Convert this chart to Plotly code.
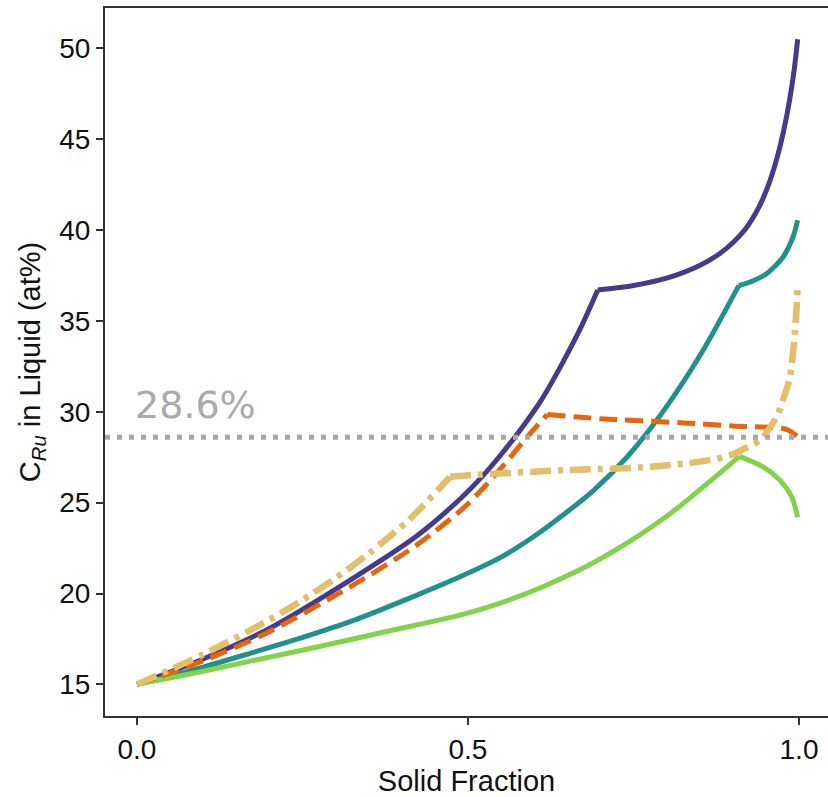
import plotly.graph_objects as go

# Liquid Ru concentration (at%) against solid fraction for five solidification paths.
# Each path has a kink where a second solid phase starts to form (index into the lists).
f_purple = [0, 0.1, 0.2, 0.322, 0.422, 0.488, 0.523, 0.55, 0.579, 0.61, 0.64, 0.67, 0.696,
            0.75, 0.8, 0.85, 0.88, 0.9, 0.92, 0.94, 0.955, 0.967, 0.977, 0.986, 0.993, 0.998]
c_purple = [15, 16.4, 18.08, 20.74, 23.15, 25.2, 26.5, 27.65, 29.0, 30.6, 32.5, 34.6, 36.7,
            36.95, 37.35, 38.05, 38.7, 39.3, 40.1, 41.3, 42.6, 44.0, 45.5, 47.2, 48.9, 50.5]
k_purple = 12

f_teal = [0, 0.1, 0.171, 0.261, 0.322, 0.422, 0.488, 0.55, 0.6, 0.65, 0.689, 0.74,
          0.775, 0.806, 0.857, 0.909, 0.93, 0.951, 0.976, 0.991, 0.998]
c_teal = [15, 15.95, 16.71, 17.71, 18.45, 19.9, 20.92, 22.0, 23.15, 24.5, 25.65, 27.5,
          29.05, 30.6, 33.5, 36.94, 37.2, 37.6, 38.52, 39.62, 40.54]
k_teal = 15

f_green = [0, 0.1, 0.171, 0.246, 0.387, 0.488, 0.55, 0.614, 0.68, 0.74, 0.78, 0.815,
           0.866, 0.91, 0.946, 0.971, 0.989, 0.998]
c_green = [15, 15.72, 16.28, 16.85, 17.99, 18.81, 19.49, 20.39, 21.51, 22.77, 23.73, 24.66,
           26.19, 27.55, 26.97, 26.24, 25.32, 24.2]
k_green = 13

f_orange = [0, 0.1, 0.2, 0.322, 0.422, 0.493, 0.523, 0.555, 0.589, 0.62,
            0.7, 0.825, 0.9, 0.981, 0.997]
c_orange = [15, 16.3, 17.9, 20.37, 22.65, 24.7, 25.8, 27.1, 28.6, 29.85,
            29.62, 29.39, 29.22, 29.03, 28.65]
k_orange = 9

f_yellow = [0, 0.1, 0.2, 0.25, 0.3, 0.35, 0.412, 0.473, 0.503, 0.649, 0.775, 0.866,
            0.896, 0.918, 0.941, 0.966, 0.979, 0.986, 0.994, 0.998]
c_yellow = [15, 16.65, 18.55, 19.65, 20.85, 22.2, 24.1, 26.42, 26.51, 26.79, 26.97, 27.34,
            27.61, 27.98, 28.44, 29.72, 31.0, 31.85, 34.44, 36.85]
k_yellow = 7

threshold = 28.6
threshold_label = "28.6%"

x_ticks = [0.0, 0.5, 1.0]
x_tick_text = ["0.0", "0.5", "1.0"]
y_ticks = [15, 20, 25, 30, 35, 40, 45, 50]

series = [
    (f_purple, c_purple, k_purple, "#463a8a", 5, "solid"),
    (f_teal, c_teal, k_teal, "#21918c", 5, "solid"),
    (f_green, c_green, k_green, "#82d34c", 5, "solid"),
    (f_orange, c_orange, k_orange, "#e8650c", 5, "18px,8px"),
    (f_yellow, c_yellow, k_yellow, "#e3bf6b", 6.5, "21px,7px,5px,7px"),
]

fig = go.Figure()

for fs, cs, k, color, width, dash in series:
    # draw the path as two smooth pieces so the kink stays sharp
    for xs, ys in ((fs[:k + 1], cs[:k + 1]), (fs[k:], cs[k:])):
        fig.add_trace(go.Scatter(
            x=xs, y=ys, mode="lines",
            line=dict(color=color, width=width, dash=dash, shape="spline", smoothing=0.8),
            showlegend=False, hoverinfo="skip",
        ))

x_range = [-0.0483, 1.0438]

fig.add_trace(go.Scatter(
    x=x_range, y=[threshold, threshold], mode="lines",
    line=dict(color="#aaa7a7", width=5, dash="5px,7px"),
    showlegend=False, hoverinfo="skip",
))

fig.add_annotation(
    x=-0.006, y=29.05, xref="x", yref="y",
    text=threshold_label, showarrow=False,
    xanchor="left", yanchor="bottom",
    font=dict(family="DejaVu Sans", size=38, color="#aaaaaa"),
)

axis_font = dict(family="Liberation Sans, Arial, sans-serif", size=28, color="#111111")

fig.update_xaxes(
    range=x_range, tickvals=x_ticks, ticktext=x_tick_text,
    showline=True, linecolor="#333333", linewidth=2, mirror=True,
    ticks="outside", ticklen=7, tickwidth=2, tickcolor="#333333",
    showgrid=False, zeroline=False, tickfont=axis_font,
    title=dict(text="Solid Fraction", font=dict(family="Liberation Sans, Arial, sans-serif",
                                                 size=29, color="#111111"), standoff=6),
)
fig.update_yaxes(
    range=[13.26, 52.22], tickvals=y_ticks,
    showline=True, linecolor="#333333", linewidth=2,
    ticks="outside", ticklen=7, tickwidth=2, tickcolor="#333333",
    showgrid=False, zeroline=False, tickfont=axis_font,
    title=dict(text="C<sub><i>Ru</i></sub> in Liquid (at%)",
               font=dict(family="Liberation Sans, Arial, sans-serif", size=29, color="#111111"),
               standoff=10),
)

fig.update_layout(
    width=828, height=797,
    margin=dict(l=105, r=0, t=8, b=81, autoexpand=False),
    plot_bgcolor="white", paper_bgcolor="white",
)

fig.write_html("out.html")
